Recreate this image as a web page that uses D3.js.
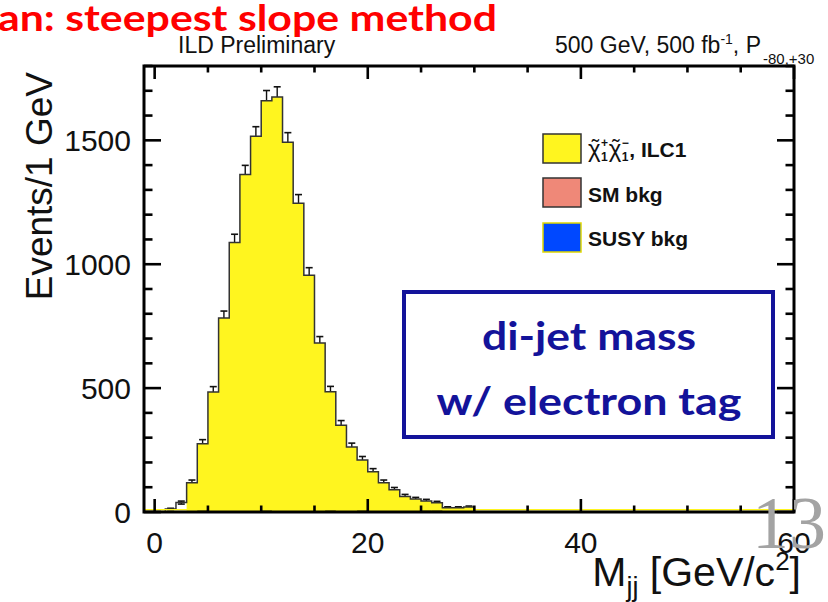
<!DOCTYPE html>
<html>
<head>
<meta charset="utf-8">
<script src="https://cdn.jsdelivr.net/npm/d3@7"></script>
<style>
  html, body { margin: 0; padding: 0; background: #fff; }
  svg { display: block; }
</style>
</head>
<body>
<svg id="chart" width="828" height="602"></svg>
<script>
// ---- data ----
const binStart = [0,1,2,3,4,5,6,7,8,9,10,11,12,13,14,15,16,17,18,19,20,21,22,23,24,25,26,27,28,29];
const totalCounts  = [0,12,38,118,275,484,783,1088,1362,1516,1660,1675,1492,1246,955,682,485,350,262,210,162,118,90,63,52,44,37,17,17,20];
const signalCounts = [0,0,0,118,275,484,783,1088,1362,1516,1660,1675,1492,1246,955,682,485,350,262,210,162,118,90,63,52,44,37,17,17,20];
const bkgCounts    = [0,0,0,0,8,0,0,0,0,0,8,0,0,0,0,0,8,0,0,8,0,0,0,0,0,8,8,0,0,0];
const errors       = [0,3,6,11,17,22,28,33,37,39,41,41,39,35,31,26,22,19,16,14,13,11,9,8,7,7,6,4,4,4];
const yTickLabels = [0, 500, 1000, 1500];
const xTickLabels = [0, 20, 40, 60];
const legendItems = ["signal", "SM bkg", "SUSY bkg"];
const legendColors = ["#fff51f", "#ef8878", "#0048ff"];

(function () {
const svg = d3.select("#chart");
const pLeft = 144, pRight = 794, pTop = 66, pBottom = 512;

const x = d3.scaleLinear().domain([-1, 60]).range([pLeft, pRight]);
const y = d3.scaleLinear().domain([0, 1800]).range([pBottom, pTop]);

const sans = "'Liberation Sans', Arial, Helvetica, sans-serif";

// ---- error bars (drawn below fill; upper half visible) ----
const eg = svg.append("g");
binStart.forEach((b, i) => {
  if (errors[i] <= 0) return;
  const cx = x(b + 0.5);
  const y1 = y(totalCounts[i] + errors[i]), y0 = y(totalCounts[i] - errors[i]);
  eg.append("line").attr("x1", cx).attr("x2", cx).attr("y1", y1).attr("y2", y0)
    .attr("stroke", "#111").attr("stroke-width", 1.4);
  [y1, y0].forEach(yy => eg.append("line").attr("x1", cx - 3.5).attr("x2", cx + 3.5)
    .attr("y1", yy).attr("y2", yy).attr("stroke", "#111").attr("stroke-width", 1.6));
});

// ---- step helpers ----
function stepPoints(vals) {
  const pts = [[binStart[0], 0]];
  binStart.forEach((b, i) => { pts.push([b, vals[i]]); pts.push([b + 1, vals[i]]); });
  pts.push([binStart[binStart.length - 1] + 1, 0]);
  return pts;
}
const line = d3.line().x(d => x(d[0])).y(d => y(d[1]));

// yellow fill
svg.append("path").attr("d", line(stepPoints(signalCounts)) + "Z")
  .attr("fill", legendColors[0]).attr("stroke", "none");

// outline of total
svg.append("path").attr("d", line(stepPoints(totalCounts)))
  .attr("fill", "none").attr("stroke", "#333").attr("stroke-width", 1.5);

// background dashes
binStart.forEach((b, i) => {
  if (bkgCounts[i] <= 0) return;
  svg.append("line").attr("x1", x(b)).attr("x2", x(b + 1))
    .attr("y1", y(bkgCounts[i])).attr("y2", y(bkgCounts[i]))
    .attr("stroke", "#5a5500").attr("stroke-width", 2);
});

// yellow line along baseline
svg.append("line").attr("x1", pLeft).attr("x2", pRight).attr("y1", y(0) - 2.2).attr("y2", y(0) - 2.2)
  .attr("stroke", legendColors[0]).attr("stroke-width", 1.6);

// ---- frame and ticks ----
svg.append("rect").attr("x", pLeft).attr("y", pTop).attr("width", pRight - pLeft).attr("height", pBottom - pTop)
  .attr("fill", "none").attr("stroke", "#000").attr("stroke-width", 3);

const tg = svg.append("g").attr("stroke", "#000").attr("stroke-width", 2.6);
d3.range(0, 1801, 100).forEach(v => {
  const major = v % 500 === 0;
  const len = major ? 17 : 8.5;
  tg.append("line").attr("x1", pLeft).attr("x2", pLeft + len).attr("y1", y(v)).attr("y2", y(v));
  tg.append("line").attr("x1", pRight).attr("x2", pRight - len).attr("y1", y(v)).attr("y2", y(v));
});
d3.range(0, 61, 5).forEach(v => {
  const major = v % 20 === 0;
  const len = major ? 13 : 6.5;
  tg.append("line").attr("x1", x(v)).attr("x2", x(v)).attr("y1", pBottom).attr("y2", pBottom - len);
  tg.append("line").attr("x1", x(v)).attr("x2", x(v)).attr("y1", pTop).attr("y2", pTop + len);
});

// tick labels
svg.append("g").selectAll("text").data(yTickLabels).join("text")
  .attr("x", 131).attr("y", d => y(d)).attr("dy", "0.36em")
  .attr("text-anchor", "end").attr("font-family", sans).attr("font-size", 30)
  .attr("fill", "#111").text(d => d);
svg.append("g").selectAll("text").data(xTickLabels).join("text")
  .attr("x", d => x(d)).attr("y", 553)
  .attr("text-anchor", "middle").attr("font-family", sans).attr("font-size", 30)
  .attr("fill", "#111").text(d => d);

// axis titles
svg.append("text").attr("transform", "translate(52,72) rotate(-90)")
  .attr("text-anchor", "end").attr("font-family", sans).attr("font-size", 37).attr("fill", "#111")
  .text("Events/1 GeV");

const xt = svg.append("text").attr("x", 801).attr("y", 586).attr("text-anchor", "end")
  .attr("font-family", sans).attr("font-size", 41).attr("fill", "#111");
xt.append("tspan").text("M");
xt.append("tspan").attr("font-size", 27).attr("dy", 10).text("jj");
xt.append("tspan").attr("dy", -10).text(" [GeV/c");
xt.append("tspan").attr("font-size", 26).attr("dy", -16).text("2");
xt.append("tspan").attr("dy", 16).text("]");

// header texts
svg.append("text").attr("x", 178).attr("y", 53).attr("font-family", sans).attr("font-size", 23)
  .attr("fill", "#111").text("ILD Preliminary");
const ht = svg.append("text").attr("x", 555).attr("y", 53).attr("font-family", sans)
  .attr("font-size", 23).attr("fill", "#111");
ht.append("tspan").text("500 GeV, 500 fb");
ht.append("tspan").attr("font-size", 14).attr("dy", -9).text("-1");
ht.append("tspan").attr("dy", 9).text(", P");
ht.append("tspan").attr("font-size", 15).attr("dy", 11).attr("dx", 2).text("-80,+30");

// red title
svg.append("text").attr("x", -2).attr("y", 31).attr("font-family", "Lato, 'Open Sans', sans-serif")
  .attr("font-weight", 700).attr("font-size", 37).attr("fill", "#ff0000")
  .attr("textLength", 499).attr("lengthAdjust", "spacingAndGlyphs")
  .text("an: steepest slope method");

// ---- legend ----
const lgY = [134, 178, 223];
legendItems.forEach((name, i) => {
  svg.append("rect").attr("x", 543).attr("y", lgY[i]).attr("width", 38).attr("height", 29)
    .attr("fill", legendColors[i]).attr("stroke", i === 2 ? "#e0d800" : "#333").attr("stroke-width", 1.5);
});
// first legend label: chi-tilde_1^+ chi-tilde_1^- , ILC1
(function () {
  const base = 157;
  let cx = 588;
  const g = svg.append("g").attr("font-family", sans).attr("fill", "#111");
  ["+", "\u2212"].forEach(sign => {
    const chi = g.append("text").attr("x", cx).attr("y", base).attr("font-size", 24).text("\u03C7");
    const w = chi.node().getComputedTextLength();
    g.append("text").attr("x", cx + w / 2 + 1).attr("y", base - 2).attr("text-anchor", "middle")
      .attr("font-size", 22).text("\u02DC");
    const sup = g.append("text").attr("x", cx + w + 0.5).attr("y", base - 10).attr("font-size", 12)
      .attr("font-weight", 700).text(sign);
    const sub = g.append("text").attr("x", cx + w + 0.5).attr("y", base + 4).attr("font-size", 12)
      .attr("font-weight", 700).text("1");
    cx += w + Math.max(sup.node().getComputedTextLength(), sub.node().getComputedTextLength()) + 1;
  });
  g.append("text").attr("x", cx).attr("y", base).attr("font-size", 21).attr("font-weight", 700).text(", ILC1");
})();
svg.append("text").attr("x", 588).attr("y", 202).attr("font-family", sans)
  .attr("font-weight", 700).attr("font-size", 21).attr("fill", "#111").text(legendItems[1]);
svg.append("text").attr("x", 588).attr("y", 246).attr("font-family", sans)
  .attr("font-weight", 700).attr("font-size", 21).attr("fill", "#111").text(legendItems[2]);

// ---- annotation box ----
const navy = "#13139a";
svg.append("rect").attr("x", 404).attr("y", 292).attr("width", 369).attr("height", 145)
  .attr("fill", "#fff").attr("stroke", navy).attr("stroke-width", 4);
svg.append("text").attr("x", 589).attr("y", 350).attr("text-anchor", "middle")
  .attr("font-family", "Lato, 'Open Sans', sans-serif").attr("font-weight", 700).attr("font-size", 39)
  .attr("fill", navy).attr("textLength", 214).attr("lengthAdjust", "spacingAndGlyphs")
  .text("di-jet mass");
svg.append("text").attr("x", 589).attr("y", 415).attr("text-anchor", "middle")
  .attr("font-family", "Lato, 'Open Sans', sans-serif").attr("font-weight", 700).attr("font-size", 39)
  .attr("fill", navy).attr("textLength", 305).attr("lengthAdjust", "spacingAndGlyphs")
  .text("w/ electron tag");

// ---- slide number ----
svg.append("text").attr("x", 752).attr("y", 548).attr("font-family", "'Liberation Serif', 'DejaVu Serif', serif")
  .attr("font-size", 74).attr("fill", "#a3a3a3").text("13");
})();
</script>
</body>
</html>
